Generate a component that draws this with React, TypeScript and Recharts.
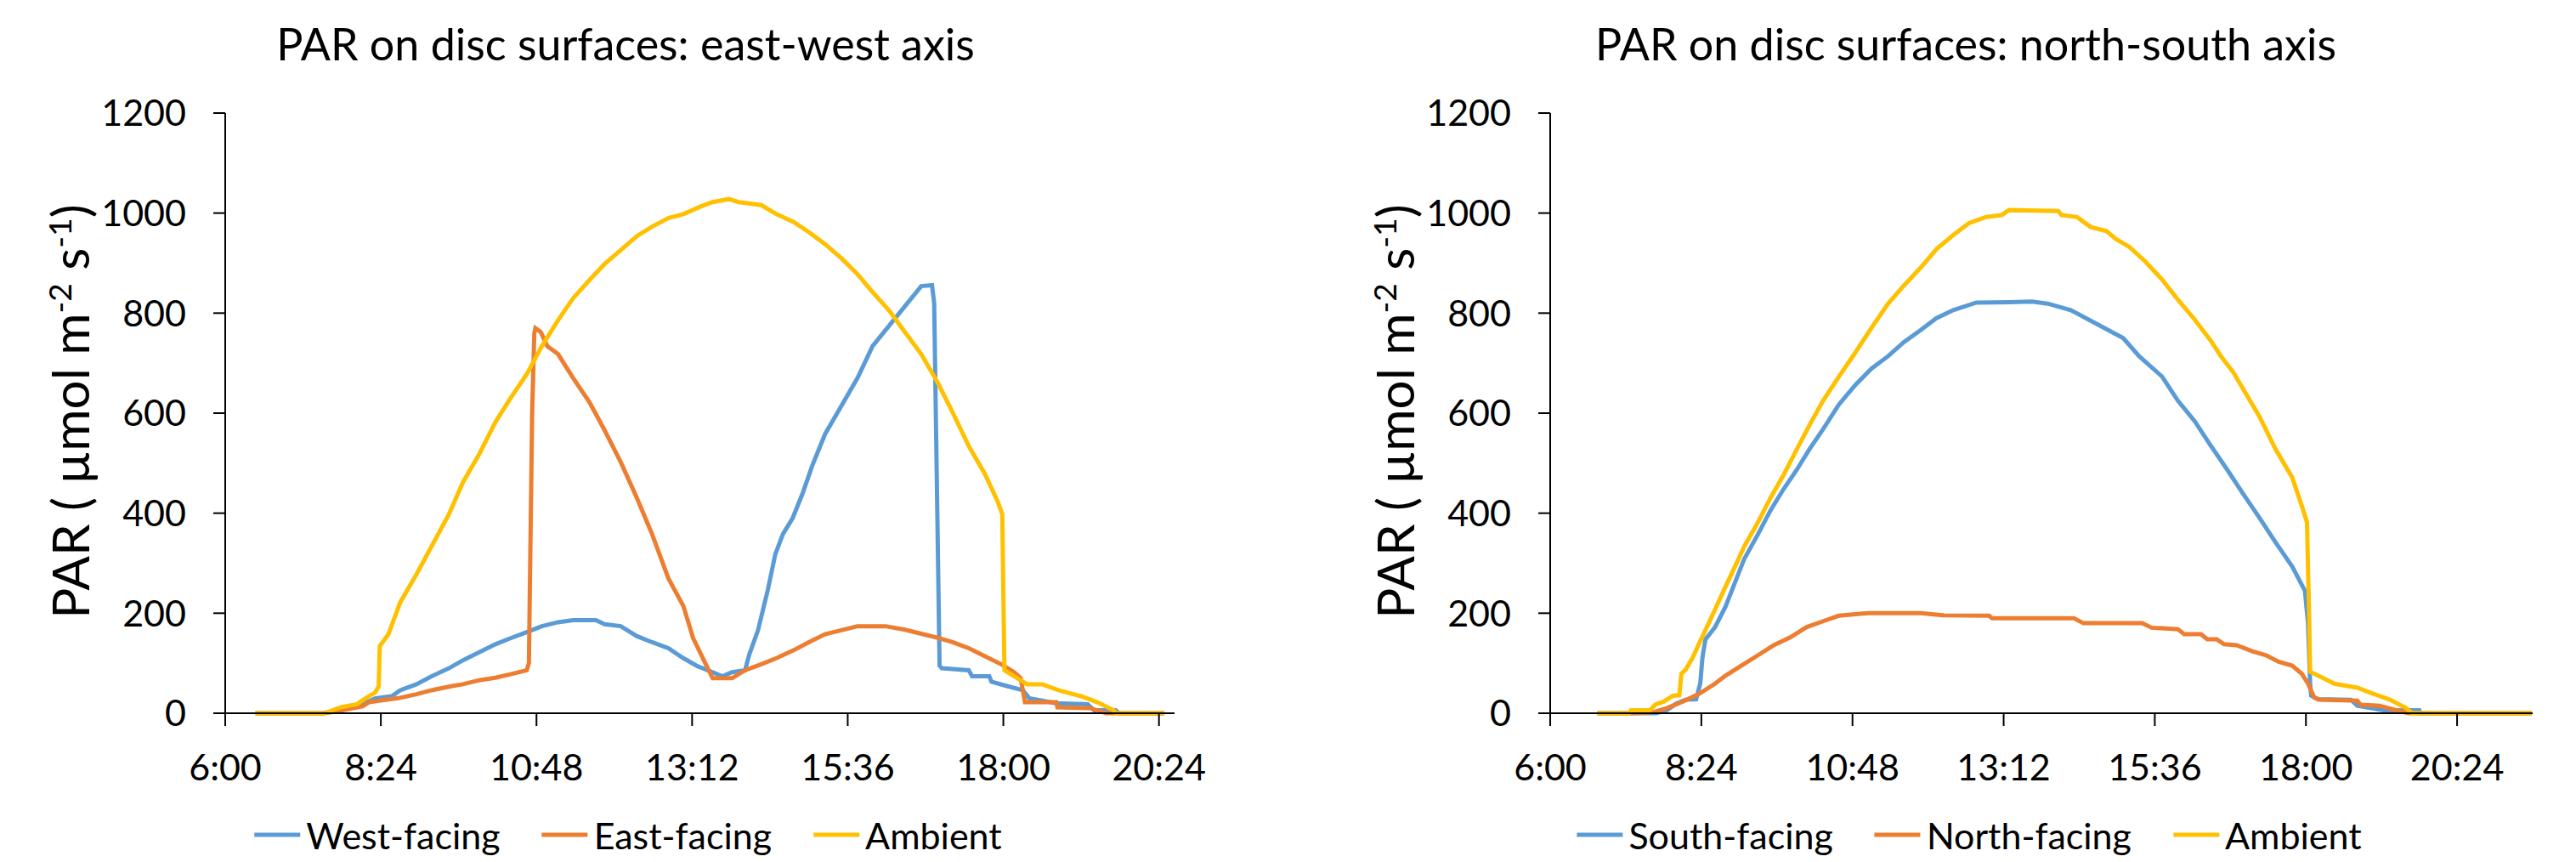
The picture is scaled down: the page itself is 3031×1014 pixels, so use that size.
import { Line, LineChart, XAxis, YAxis } from 'recharts'

// [minutes since midnight, PAR]
type Pt = [number, number]

const TIME_TICKS = [360, 504, 648, 792, 936, 1080, 1224]
const PAR_TICKS = [0, 200, 400, 600, 800, 1000, 1200]

// east-west axis
const EW_WEST: Pt[] = [
  [388, 0], [450, 0], [470, 8], [487, 18], [499, 30], [514, 34], [522, 46], [537, 58],
  [551, 74], [567, 90], [580, 106], [595, 122], [610, 138], [624, 150], [639, 162],
  [653, 174], [668, 182], [682, 186], [703, 186], [711, 178], [726, 174], [741, 154],
  [755, 142], [770, 130], [784, 110], [797, 94], [811, 82], [820, 74], [829, 82],
  [841, 86], [845, 118], [853, 166], [862, 246], [869, 318], [876, 358], [885, 390],
  [894, 438], [903, 494], [915, 558], [930, 614], [945, 670], [959, 734], [974, 774],
  [989, 814], [1004, 854], [1014, 856], [1016, 820], [1021, 95], [1023, 90], [1048, 86],
  [1051, 74], [1067, 74], [1069, 63], [1084, 54], [1098, 46], [1104, 30], [1129, 20],
  [1158, 18], [1164, 6], [1184, 6], [1187, 0], [1229, 0],
]

const EW_EAST: Pt[] = [
  [388, 0], [452, 0], [464, 4], [487, 14], [493, 22], [505, 26], [520, 30], [537, 38],
  [551, 46], [569, 54], [580, 58], [595, 66], [610, 71], [624, 78], [639, 86], [641, 100],
  [644, 600], [646, 760], [647, 770], [652, 762], [658, 734], [668, 718], [682, 670],
  [697, 622], [711, 566], [726, 502], [741, 430], [755, 358], [770, 270], [784, 214],
  [793, 150], [802, 110], [811, 70], [829, 70], [841, 86], [856, 98], [870, 110],
  [886, 126], [900, 142], [915, 158], [930, 166], [945, 174], [971, 174], [989, 167],
  [1004, 159], [1019, 151], [1033, 142], [1048, 130], [1063, 114], [1078, 98], [1090, 82],
  [1096, 70], [1100, 22], [1129, 22], [1130, 12], [1161, 10], [1175, 0], [1229, 0],
]

const EW_AMBIENT: Pt[] = [
  [388, 0], [452, 0], [467, 12], [482, 18], [490, 30], [499, 42], [502, 54], [503, 134],
  [511, 158], [522, 222], [537, 278], [551, 334], [567, 398], [580, 462], [595, 518],
  [610, 582], [624, 630], [639, 678], [653, 734], [668, 786], [682, 830], [697, 866],
  [711, 898], [726, 926], [741, 954], [755, 973], [770, 990], [784, 998], [801, 1014],
  [811, 1022], [826, 1028], [835, 1022], [856, 1016], [870, 998], [886, 982], [900, 962],
  [915, 938], [930, 910], [945, 878], [959, 842], [974, 806], [989, 762], [1004, 718],
  [1019, 662], [1033, 602], [1048, 534], [1063, 478], [1075, 422], [1079, 398], [1081, 86],
  [1093, 70], [1102, 58], [1116, 58], [1131, 46], [1152, 34], [1167, 22], [1182, 6],
  [1184, 0], [1229, 0],
]

// north-south axis
const NS_SOUTH: Pt[] = [
  [405, 0], [461, 0], [471, 6], [480, 19], [489, 27], [499, 28], [503, 60], [505, 110],
  [506, 124], [508, 148], [517, 172], [527, 213], [536, 261], [545, 309], [558, 358],
  [570, 406], [582, 447], [595, 487], [607, 528], [620, 568], [635, 617], [651, 657],
  [666, 689], [682, 714], [697, 742], [713, 766], [728, 790], [744, 806], [766, 821],
  [797, 822], [819, 823], [834, 819], [856, 806], [881, 778], [906, 750], [921, 714],
  [943, 673], [958, 625], [974, 584], [989, 536], [1005, 487], [1020, 439], [1036, 390],
  [1051, 342], [1067, 293], [1079, 245], [1082, 180], [1084, 60], [1085, 35], [1092, 28],
  [1123, 27], [1129, 15], [1154, 6], [1188, 6], [1189, 0], [1295, 0],
]

const NS_NORTH: Pt[] = [
  [405, 0], [440, 0], [458, 2], [471, 10], [486, 23], [502, 39], [517, 59], [527, 75],
  [542, 95], [558, 116], [573, 136], [589, 152], [604, 172], [620, 184], [635, 195],
  [651, 198], [663, 200], [713, 200], [734, 196], [778, 195], [781, 190], [859, 190],
  [868, 180], [924, 180], [933, 171], [958, 168], [964, 158], [980, 158], [986, 148],
  [995, 148], [1002, 138], [1014, 136], [1029, 124], [1042, 116], [1054, 103], [1067, 95],
  [1076, 79], [1082, 59], [1088, 31], [1092, 27], [1129, 25], [1132, 17], [1150, 15],
  [1166, 6], [1178, 0], [1295, 0],
]

const NS_AMBIENT: Pt[] = [
  [405, 0], [435, 0], [437, 6], [455, 6], [460, 17], [468, 23], [477, 35], [483, 36],
  [485, 79], [489, 87], [496, 112], [502, 140], [511, 180], [520, 221], [527, 253],
  [536, 293], [545, 334], [558, 382], [570, 431], [583, 479], [595, 528], [607, 576],
  [620, 625], [635, 673], [651, 722], [666, 770], [682, 819], [697, 855], [713, 891],
  [728, 928], [744, 956], [759, 980], [775, 992], [790, 996], [797, 1006], [844, 1004],
  [847, 996], [862, 992], [875, 972], [890, 964], [899, 948], [912, 932], [927, 903],
  [943, 867], [958, 827], [974, 787], [989, 746], [999, 714], [1011, 681], [1020, 649],
  [1036, 592], [1051, 528], [1067, 471], [1076, 415], [1081, 382], [1083, 200], [1084, 83],
  [1092, 75], [1107, 59], [1129, 51], [1144, 39], [1160, 27], [1175, 11], [1181, 0],
  [1295, 0],
]

const BLUE = '#5B9BD5'
const ORANGE = '#ED7D31'
const GOLD = '#FFC000'
const FONT = 'Lato, "Open Sans", sans-serif'

interface Series {
  name: string
  color: string
  points: Pt[]
}

const hhmm = (m: number) => `${Math.floor(m / 60)}:${String(Math.round(m % 60)).padStart(2, '0')}`

interface PanelProps {
  left: number
  width: number
  rightPad: number
  xMax: number
  title: string
  titleX: number
  legendX: number
  series: Series[]
}

function Panel({ left, width, rightPad, xMax, title, titleX, legendX, series }: PanelProps) {
  const tickStyle = { fill: '#000', fontSize: 43, fontFamily: FONT }
  return (
    <div style={{ position: 'absolute', left, top: 0, width, height: 1014, fontFamily: FONT }}>
      <LineChart
        width={width}
        height={1014}
        margin={{ top: 133, right: rightPad, bottom: 75, left: 0 }}
        style={{ position: 'absolute', left: 0, top: 0 }}
      >
        <XAxis
          dataKey="t"
          type="number"
          domain={[360, xMax]}
          ticks={TIME_TICKS}
          tickFormatter={hhmm}
          interval={0}
          height={100}
          tickSize={15}
          tickMargin={33}
          axisLine={{ stroke: '#000', strokeWidth: 2 }}
          tickLine={{ stroke: '#000', strokeWidth: 2 }}
          tick={tickStyle}
          allowDataOverflow
        />
        <YAxis
          type="number"
          domain={[0, 1200]}
          ticks={PAR_TICKS}
          interval={0}
          width={265}
          tickSize={14}
          tickMargin={32}
          axisLine={{ stroke: '#000', strokeWidth: 2 }}
          tickLine={{ stroke: '#000', strokeWidth: 2 }}
          tick={tickStyle}
        />
        {series.map((s) => (
          <Line
            key={s.name}
            name={s.name}
            data={s.points.map(([t, v]) => ({ t, v }))}
            dataKey="v"
            type="linear"
            stroke={s.color}
            strokeWidth={5}
            dot={false}
            activeDot={false}
            isAnimationActive={false}
          />
        ))}
      </LineChart>
      <div
        style={{
          position: 'absolute',
          left: titleX,
          top: 25,
          transform: 'translateX(-50%)',
          whiteSpace: 'nowrap',
          fontSize: 52,
          lineHeight: 1,
          color: '#000',
        }}
      >
        {title}
      </div>
      <div
        style={{
          position: 'absolute',
          left: 81,
          top: 484,
          transform: 'translate(-50%, -50%) rotate(-90deg)',
          whiteSpace: 'nowrap',
          fontSize: 60,
          lineHeight: 1,
          color: '#000',
        }}
      >
        PAR ( µmol m<sup style={{ fontSize: '0.62em' }}>-2</sup> s<sup style={{ fontSize: '0.62em' }}>-1</sup>)
      </div>
      <div
        style={{
          position: 'absolute',
          left: legendX,
          top: 982,
          transform: 'translate(-50%, -50%)',
          display: 'flex',
          alignItems: 'center',
          gap: 49,
          whiteSpace: 'nowrap',
          fontSize: 43,
          lineHeight: 1,
          color: '#000',
        }}
      >
        {series.map((s) => (
          <div key={s.name} style={{ display: 'flex', alignItems: 'center' }}>
            <span style={{ display: 'inline-block', width: 54, height: 5, background: s.color, marginRight: 7 }} />
            <span>{s.name}</span>
          </div>
        ))}
      </div>
    </div>
  )
}

export default function App() {
  return (
    <div style={{ position: 'absolute', left: 0, top: 0, width: 3031, height: 1014, background: '#fff' }}>
      <Panel
        left={0}
        width={1450}
        rightPad={68}
        xMax={1238.4}
        title="PAR on disc surfaces: east-west axis"
        titleX={736}
        legendX={739}
        series={[
          { name: 'West-facing', color: BLUE, points: EW_WEST },
          { name: 'East-facing', color: ORANGE, points: EW_EAST },
          { name: 'Ambient', color: GOLD, points: EW_AMBIENT },
        ]}
      />
      <Panel
        left={1559}
        width={1441}
        rightPad={20}
        xMax={1296}
        title="PAR on disc surfaces: north-south axis"
        titleX={754}
        legendX={758}
        series={[
          { name: 'South-facing', color: BLUE, points: NS_SOUTH },
          { name: 'North-facing', color: ORANGE, points: NS_NORTH },
          { name: 'Ambient', color: GOLD, points: NS_AMBIENT },
        ]}
      />
    </div>
  )
}
